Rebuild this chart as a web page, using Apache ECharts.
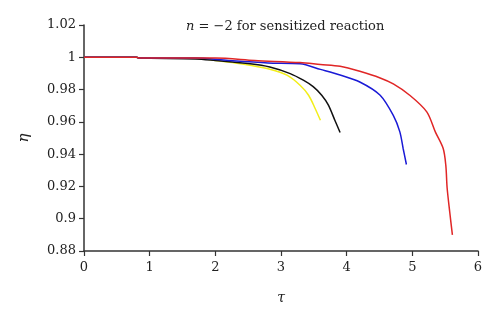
<!DOCTYPE html>
<html>
<head>
<meta charset="utf-8">
<script src="https://cdn.jsdelivr.net/npm/echarts@6/dist/echarts.min.js"></script>
<style>
  html, body { margin: 0; padding: 0; background: #fff; }
  #chart { width: 500px; height: 322px; }
</style>
</head>
<body>
<div id="chart"></div>
<script>
// Efficiency η versus dimensionless time τ, n = −2 (sensitized reaction)
const xTicks = [0, 1, 2, 3, 4, 5, 6];
const yTicks = [0.88, 0.9, 0.92, 0.94, 0.96, 0.98, 1, 1.02];

const curveYellow = [
  [0, 1], [0.8, 1], [0.85, 0.9995], [1.7, 0.9995], [2.0, 0.998], [2.3, 0.9965],
  [2.53, 0.995], [2.83, 0.9926], [3.09, 0.9889], [3.29, 0.9827], [3.42, 0.9765],
  [3.52, 0.9683], [3.6, 0.961]
];
const curveBlack = [
  [0, 1], [0.8, 1], [0.85, 0.9995], [1.7, 0.999], [2.0, 0.998], [2.53, 0.996],
  [2.83, 0.994], [3.14, 0.9899], [3.34, 0.9858], [3.49, 0.9818], [3.62, 0.9765],
  [3.72, 0.9705], [3.82, 0.961], [3.9, 0.9534]
];
const curveBlue = [
  [0, 1], [0.8, 1], [0.85, 0.9995], [1.7, 0.9995], [2.2, 0.998], [2.8, 0.9965],
  [3.29, 0.996], [3.6, 0.9925], [3.9, 0.989], [4.2, 0.9847], [4.51, 0.9765],
  [4.71, 0.964], [4.81, 0.9538], [4.86, 0.9435], [4.91, 0.9336]
];
const curveRed = [
  [0, 1], [0.8, 1], [0.85, 0.9995], [2.0, 0.9995], [2.6, 0.998], [3.29, 0.9967],
  [3.6, 0.9955], [3.9, 0.9944], [4.2, 0.9913], [4.51, 0.9872], [4.71, 0.9835],
  [4.96, 0.9765], [5.22, 0.9662], [5.35, 0.9538], [5.47, 0.9435], [5.51, 0.933],
  [5.53, 0.919], [5.57, 0.904], [5.61, 0.89]
];

const serif = '"DejaVu Serif", "Liberation Serif", serif';
const axisColor = '#333';

const chart = echarts.init(document.getElementById('chart'), null, { renderer: 'canvas' });

function lineSeries(name, data, color) {
  return {
    name: name,
    type: 'line',
    data: data,
    showSymbol: false,
    smooth: 0.3,
    lineStyle: { color: color, width: 1.5 },
    animation: false
  };
}

chart.setOption({
  animation: false,
  grid: { left: 84, right: 22, top: 25, bottom: 71 },
  xAxis: {
    type: 'value',
    min: xTicks[0],
    max: xTicks[xTicks.length - 1],
    interval: 1,
    name: 'τ',
    nameLocation: 'middle',
    nameGap: 40,
    nameTextStyle: { fontFamily: serif, fontStyle: 'italic', fontSize: 14, color: '#222' },
    axisLine: { lineStyle: { color: axisColor, width: 1.5 } },
    axisTick: { show: true, length: 5, lineStyle: { color: axisColor, width: 1.2 } },
    axisLabel: { fontFamily: serif, fontSize: 13, color: '#222', margin: 10 },
    splitLine: { show: false }
  },
  yAxis: {
    type: 'value',
    min: yTicks[0],
    max: yTicks[yTicks.length - 1],
    interval: 0.02,
    name: 'η',
    nameLocation: 'middle',
    nameRotate: 90,
    nameGap: 52,
    nameTextStyle: { fontFamily: serif, fontStyle: 'italic', fontSize: 15, color: '#222' },
    axisLine: { show: true, lineStyle: { color: axisColor, width: 1.5 } },
    axisTick: { show: true, length: 5, lineStyle: { color: axisColor, width: 1.2 } },
    axisLabel: {
      fontFamily: serif, fontSize: 13, color: '#222', margin: 8,
      formatter: v => String(parseFloat(v.toFixed(2)))
    },
    splitLine: { show: false }
  },
  graphic: [{
    type: 'text',
    left: 186,
    top: 20,
    style: {
      text: '{i|n} = −2 for sensitized reaction',
      font: '13px ' + serif,
      fill: '#222',
      rich: {
        i: { fontFamily: serif, fontStyle: 'italic', fontSize: 13, fill: '#222' }
      }
    }
  }],
  series: [
    lineSeries('yellow', curveYellow, '#f2ee1a'),
    lineSeries('black', curveBlack, '#111111'),
    lineSeries('blue', curveBlue, '#1a1ad6'),
    lineSeries('red', curveRed, '#e02626')
  ]
});
</script>
</body>
</html>
